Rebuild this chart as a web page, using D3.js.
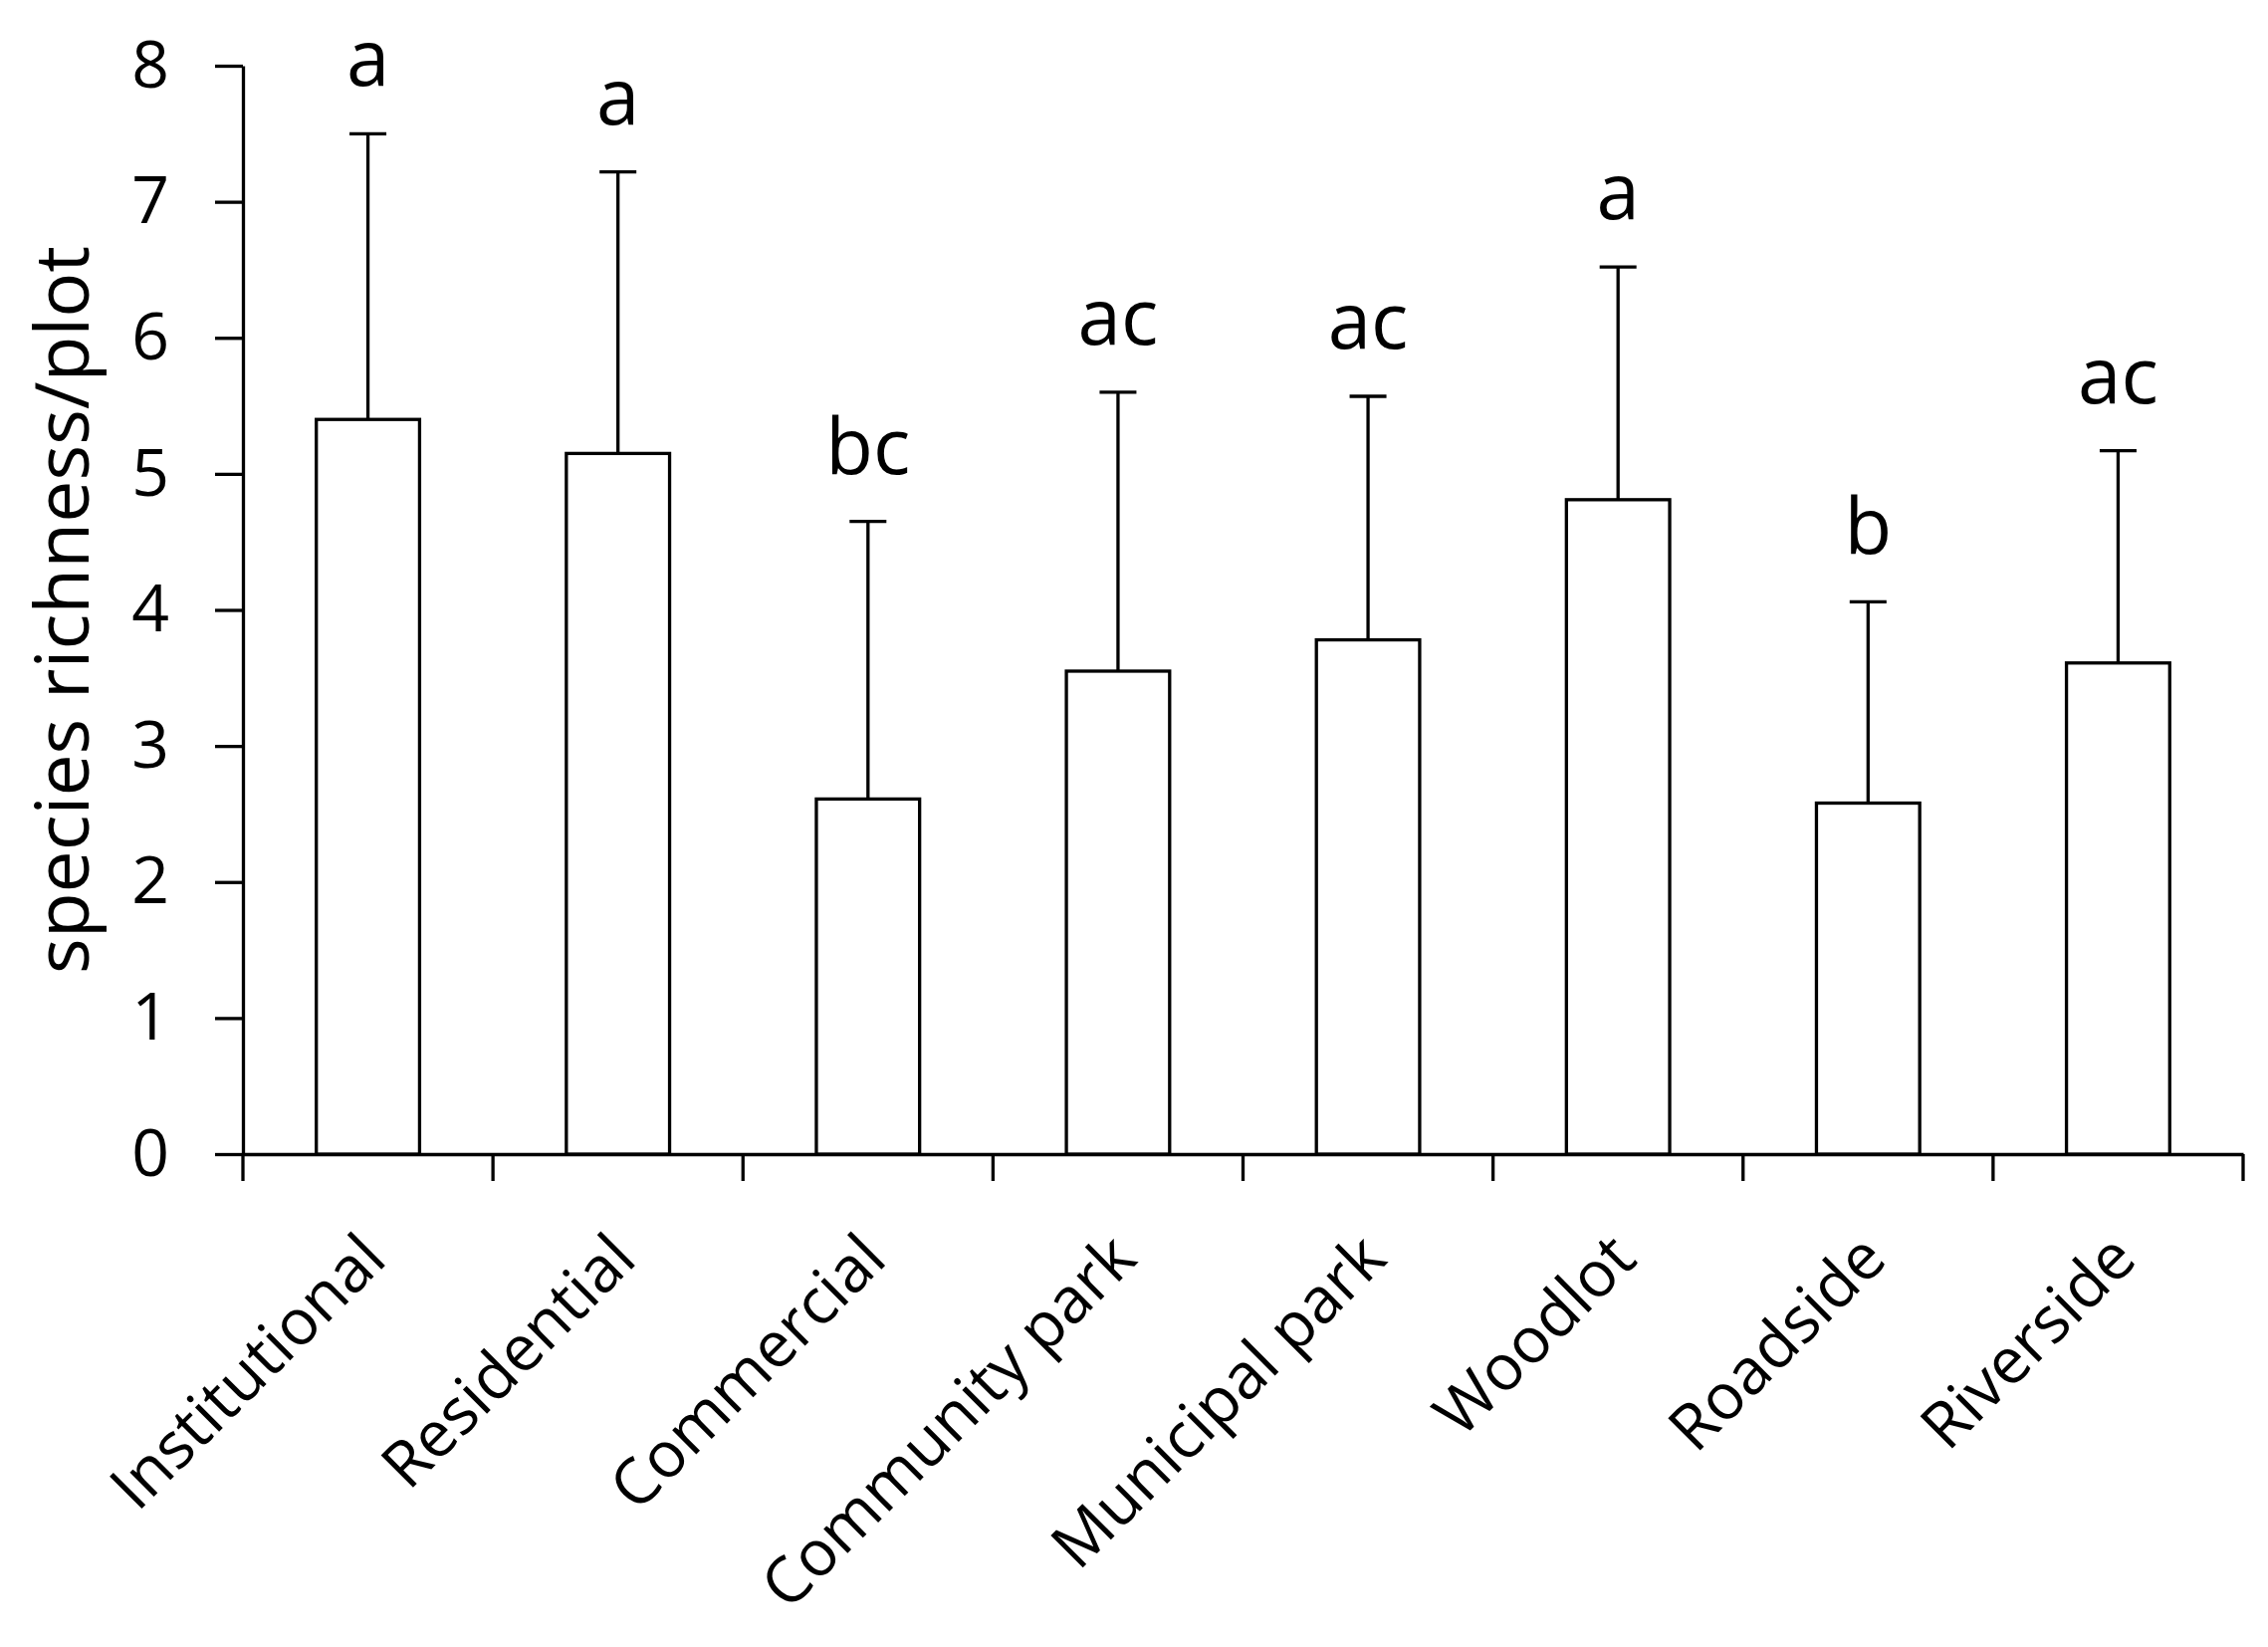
<!DOCTYPE html>
<html>
<head>
<meta charset="utf-8">
<script src="https://cdn.jsdelivr.net/npm/d3@7"></script>
<style>
  body { margin: 0; background: white; }
  text { font-family: 'Open Sans', sans-serif; fill: black; }
</style>
</head>
<body>
<div id="container"></div>
<script>
// values
let categories = ['Institutional', 'Residential', 'Commercial', 'Community park',
    'Municipal park', 'Woodlot', 'Roadside', 'Riverside'];
let means = [5.40, 5.15, 2.61, 3.55, 3.78, 4.81, 2.58, 3.61];
let upper = [7.50, 7.22, 4.65, 5.60, 5.57, 6.52, 4.06, 5.17];
let letters = ['a', 'a', 'bc', 'ac', 'ac', 'a', 'b', 'ac'];
let yTicks = [0, 1, 2, 3, 4, 5, 6, 7, 8];

let data = categories.map(function (c, i) {
    return { cat: c, mean: means[i], up: upper[i], letter: letters[i] };
});

let viz = d3.select('#container')
    .append('svg')
    .attr('width', 2278)
    .attr('height', 1654)
    ;

viz.append('rect')
    .attr('width', 2278)
    .attr('height', 1654)
    .attr('fill', 'white');

let y = d3.scaleLinear().domain([0, 8]).range([1159, 66]);
let x = d3.scaleBand().domain(categories).range([244, 2253]);
let bw = x.bandwidth();
let barW = bw * 0.413;
let sw = 3.3;

function cx(d) {
    return x(d.cat) + bw / 2;
}

// y axis
let yAxis = viz.append('g')
    .attr('transform', 'translate(244,0)')
    .call(d3.axisLeft(y).tickValues(yTicks).tickSize(28).tickSizeOuter(0).tickPadding(46));
yAxis.selectAll('path, line').attr('stroke', 'black').attr('stroke-width', sw);
yAxis.selectAll('text')
    .style('font-family', "'Open Sans', sans-serif")
    .style('font-size', '66px')
    .attr('fill', 'black');

// x axis with boundary ticks
let xAxis = viz.append('g')
    .attr('transform', 'translate(0,1159)')
    .call(d3.axisBottom(x).tickSize(0).tickFormat(''));
xAxis.select('.domain').attr('stroke', 'black').attr('stroke-width', sw);

let bounds = categories.map(function (c) { return x(c); }).concat([x.range()[1]]);
xAxis.selectAll('.bound').data(bounds).enter()
    .append('line')
    .attr('class', 'bound')
    .attr('x1', function (d) { return d; })
    .attr('x2', function (d) { return d; })
    .attr('y1', 0)
    .attr('y2', 27)
    .attr('stroke', 'black')
    .attr('stroke-width', sw);

// error bars
let groups = viz.selectAll('.datagroup').data(data).enter()
    .append('g')
    .attr('class', 'datagroup');

groups.append('line')
    .attr('x1', cx)
    .attr('x2', cx)
    .attr('y1', function (d) { return y(d.mean); })
    .attr('y2', function (d) { return y(d.up); })
    .attr('stroke', 'black')
    .attr('stroke-width', sw);

groups.append('line')
    .attr('x1', function (d) { return cx(d) - 18.5; })
    .attr('x2', function (d) { return cx(d) + 18.5; })
    .attr('y1', function (d) { return y(d.up); })
    .attr('y2', function (d) { return y(d.up); })
    .attr('stroke', 'black')
    .attr('stroke-width', sw);

// bars
groups.append('rect')
    .attr('x', function (d) { return cx(d) - barW / 2; })
    .attr('y', function (d) { return y(d.mean); })
    .attr('width', barW)
    .attr('height', function (d) { return y(0) - y(d.mean); })
    .attr('fill', 'white')
    .attr('stroke', 'black')
    .attr('stroke-width', sw);

// significance letters
groups.append('text')
    .attr('x', cx)
    .attr('y', function (d) { return y(d.up) - 48; })
    .attr('text-anchor', 'middle')
    .style('font-size', '78px')
    .text(function (d) { return d.letter; });

// category labels
groups.append('text')
    .attr('transform', function (d) {
        return 'translate(' + (cx(d) + 21) + ',1267) rotate(-45)';
    })
    .attr('text-anchor', 'end')
    .style('font-size', '64px')
    .text(function (d) { return d.cat; });

// y title
viz.append('text')
    .attr('transform', 'translate(89,' + ((y(0) + y(8)) / 2) + ') rotate(-90)')
    .attr('text-anchor', 'middle')
    .style('font-size', '75px')
    .text('species richness/plot');
</script>
</body>
</html>
